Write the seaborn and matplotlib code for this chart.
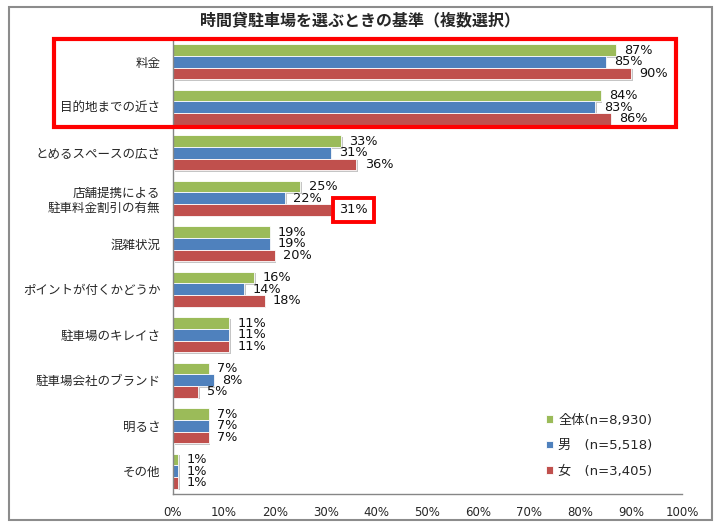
import pandas as pd
import seaborn as sns
import matplotlib.pyplot as plt
import matplotlib.patheffects as pe
from matplotlib.patches import Rectangle
from matplotlib.transforms import blended_transform_factory

categories = ["料金", "目的地までの近さ", "とめるスペースの広さ", "店舗提携による\n駐車料金割引の有無",
              "混雑状況", "ポイントが付くかどうか", "駐車場のキレイさ", "駐車場会社のブランド",
              "明るさ", "その他"]
total = [87, 84, 33, 25, 19, 16, 11, 7, 7, 1]
male = [85, 83, 31, 22, 19, 14, 11, 8, 7, 1]
female = [90, 86, 36, 31, 20, 18, 11, 5, 7, 1]
groups = ["全体(n=8,930)", "男\u3000(n=5,518)", "女\u3000(n=3,405)"]
colors = ["#9BBB59", "#4F81BD", "#C0504D"]

rows = []
for g, vals in zip(groups, [total, male, female]):
    for c, v in zip(categories, vals):
        rows.append({"item": c, "pct": v, "group": g})
df = pd.DataFrame(rows)

sns.set_style("white")
plt.rcParams['font.family'] = ['DejaVu Sans', 'Noto Sans CJK JP']

fig = plt.figure(figsize=(7.2, 5.32), dpi=100)
ax = fig.add_axes([173 / 720, 1 - 494 / 532, (682 - 173) / 720, (494 - 39) / 532])

sns.barplot(data=df, y="item", x="pct", hue="group", orient="h", palette=colors,
            saturation=1, width=0.77, edgecolor="white", linewidth=0.6, ax=ax)

shadow = [pe.SimplePatchShadow(offset=(1.2, -1.2), shadow_rgbFace="#7f7f7f", alpha=0.45), pe.Normal()]
all_labels = []
for cont, vals in zip(ax.containers, [total, male, female]):
    for p in cont:
        p.set_path_effects(shadow)
    txts = ax.bar_label(cont, labels=[f"{v}%" for v in vals], padding=6, fontsize=9.3, color="#111111")
    all_labels.append(txts)

# highlight on the female discount label
all_labels[2][3].set_bbox(dict(boxstyle="square,pad=0.45", fc="white", ec="#FF0000", lw=2.8))

ax.set_xlim(0, 100)
ax.set_xticks(range(0, 101, 10))
ax.set_xticklabels([f"{t}%" for t in range(0, 101, 10)], fontsize=8.5)
ax.set_xlabel("")
ax.set_ylabel("")
ax.tick_params(axis="y", length=0, pad=9, labelsize=9)
ax.tick_params(axis="x", length=0, pad=9)
for s in ["top", "right"]:
    ax.spines[s].set_visible(False)
for s in ["left", "bottom"]:
    ax.spines[s].set_color("#868686")
    ax.spines[s].set_linewidth(1.0)

handles, _ = ax.get_legend_handles_labels()
ax.legend(handles, groups, loc="lower right", bbox_to_anchor=(0.965, 0.01), frameon=False,
          handlelength=0.5, handleheight=0.5, handletextpad=0.4, labelspacing=0.95, fontsize=9.5)

# big highlight box around the top two items
trans = blended_transform_factory(fig.transFigure, ax.transData)
ax.add_patch(Rectangle((54 / 720, -0.49), (676 - 54) / 720, 1.93, transform=trans,
                       fill=False, ec="#FF0000", lw=3, clip_on=False, zorder=5))

fig.text(0.5, 1 - 20 / 532, "時間貸駐車場を選ぶときの基準（複数選択）", ha="center", va="center",
         fontsize=11.5, fontweight="bold")
fig.patches.append(Rectangle((9 / 720, 1 - 520 / 532), (712 - 9) / 720, (520 - 7) / 532,
                             transform=fig.transFigure, fill=False, ec="#8c8c8c", lw=1.5))

fig.savefig("out.png", dpi=100)
